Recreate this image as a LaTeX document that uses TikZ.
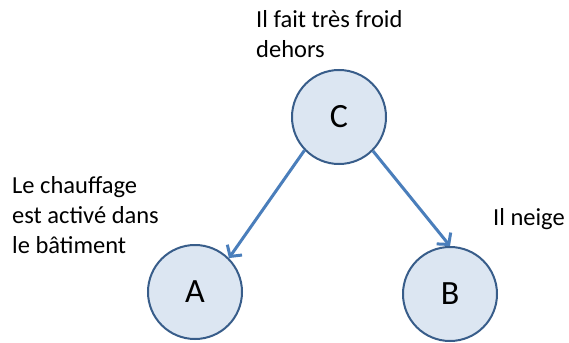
\documentclass[tikz,border=0pt]{standalone}
\usepackage{fontspec}
\setmainfont{Carlito}
\usetikzlibrary{arrows.meta,positioning}
\definecolor{circfill}{RGB}{220,230,242}
\definecolor{circline}{RGB}{56,93,138}
\definecolor{arrline}{RGB}{74,126,187}
\tikzset{
  var/.style={circle,draw=circline,fill=circfill,line width=2pt,
    minimum size=94pt,inner sep=0pt,font=\fontsize{34}{40}\selectfont},
  note/.style={anchor=base west,align=left,inner sep=0pt,
    font=\fontsize{24.5}{30}\selectfont},
  link/.style={draw=arrline,line width=3pt,
    -{Straight Barb[length=8pt,width=18pt]}}
}
\begin{document}
\begin{tikzpicture}[x=1pt,y=-1pt]
  \useasboundingbox (0,0) rectangle (569,342);

  \node[var] (c) at (339,117) {C};
  \node[var] (a) at (195,292) {A};
  \node[var] (b) at (450,294) {B};

  \draw[link] (c.224) -- (a.45);
  \draw[link] (c.-45) -- (b.90);

  % base anchor sits on the last line
  \node[note] (tc) at (256,58) {Il fait très froid\\dehors};
  \node[note] (ta) at (12,253) {Le chauffage\\est activé dans\\le bâtiment};
  \node[note] (tb) at (493,225) {Il neige};
\end{tikzpicture}
\end{document}
